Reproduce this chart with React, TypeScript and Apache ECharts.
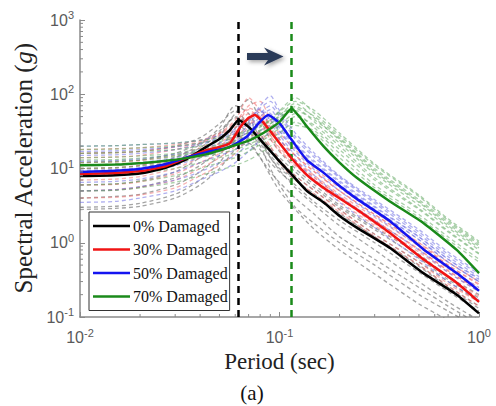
import React, { useEffect, useRef } from "react";
import * as echarts from "echarts";

// ---- mean spectra (solid lines) ----
const blackT = [0.01, 0.015, 0.0207, 0.027, 0.034, 0.0427, 0.05, 0.0565, 0.0624, 0.0711, 0.083, 0.1, 0.113, 0.137, 0.166, 0.2, 0.244, 0.358, 0.526, 0.773, 1.0];
const blackSa = [7.9, 8.1, 8.7, 10.3, 13.3, 19.4, 25, 33, 45, 35, 22, 12.5, 8.8, 5.0, 3.5, 2.3, 1.6, 0.85, 0.39, 0.2, 0.112];
const redT = [0.01, 0.015, 0.0207, 0.027, 0.034, 0.0427, 0.05, 0.0565, 0.0635, 0.0697, 0.0753, 0.0826, 0.1, 0.113, 0.137, 0.166, 0.208, 0.244, 0.358, 0.526, 0.773, 1.0];
const redSa = [8.4, 8.7, 9.3, 10.8, 13.8, 17.5, 19.5, 22, 36, 47.6, 52.4, 42.5, 22, 14.5, 8.2, 5.5, 3.7, 2.8, 1.35, 0.6, 0.29, 0.16];
const blueT = [0.01, 0.015, 0.0207, 0.027, 0.034, 0.0427, 0.05, 0.0565, 0.0685, 0.0798, 0.0878, 0.1, 0.113, 0.137, 0.166, 0.2, 0.244, 0.358, 0.526, 0.773, 1.0];
const blueSa = [9.0, 9.3, 10, 11.5, 14, 16.5, 18, 19.6, 26.7, 42.5, 52.4, 40.8, 26, 13, 8.8, 5.8, 3.9, 1.95, 0.82, 0.39, 0.225];
const greenT = [0.01, 0.015, 0.0207, 0.027, 0.034, 0.0427, 0.05, 0.0565, 0.0711, 0.0826, 0.1, 0.115, 0.126, 0.137, 0.166, 0.2, 0.244, 0.358, 0.526, 0.773, 1.0];
const greenSa = [11.1, 11.3, 11.9, 12.7, 13.8, 15.5, 17.5, 19.6, 24.1, 29.8, 42.5, 64.4, 49.7, 37, 20, 12, 7.5, 3.6, 1.85, 0.8, 0.39];

// ---- individual records (dashed lines) ----
const recPeriods = [0.01, 0.015, 0.02, 0.03, 0.04, 0.05, 0.06, 0.07, 0.08, 0.09, 0.1, 0.12, 0.15, 0.2, 0.3, 0.5, 0.7, 1.0];
const greyRecs = [
  [6, 6.2, 6.8, 9, 14, 22, 40, 30, 18, 12, 9, 6, 3.5, 2, 1.0, 0.4, 0.22, 0.12],
  [12, 12.5, 13, 16, 22, 35, 70, 55, 30, 18, 13, 8, 5, 2.8, 1.3, 0.55, 0.3, 0.16],
  [4, 4.2, 4.5, 6, 9, 15, 28, 22, 14, 9, 6.5, 4, 2.4, 1.2, 0.6, 0.25, 0.14, 0.08],
  [9, 9.3, 10, 13, 19, 30, 55, 85, 45, 25, 17, 10, 6, 3.2, 1.6, 0.7, 0.35, 0.2],
  [16, 16.5, 17, 20, 26, 40, 60, 38, 22, 14, 10, 7, 4.2, 2.4, 1.2, 0.5, 0.26, 0.14],
  [3, 3.1, 3.4, 4.5, 7, 12, 24, 30, 20, 10, 6, 3, 1.8, 1.0, 0.5, 0.2, 0.12, 0.07],
  [8, 8.1, 8.6, 11, 17, 27, 50, 40, 24, 15, 11, 7, 4.5, 2.5, 1.2, 0.48, 0.25, 0.13],
  [5, 5.1, 5.6, 7.5, 11, 18, 35, 45, 25, 14, 9.5, 5.5, 3.2, 1.7, 0.8, 0.3, 0.16, 0.09],
  [10, 10.3, 11, 14, 21, 32, 48, 42, 28, 19, 14, 9, 5.5, 3.0, 1.5, 0.62, 0.32, 0.18],
  [2.8, 2.9, 3.1, 4, 6, 10, 18, 22, 14, 8, 5, 2.8, 1.5, 0.8, 0.38, 0.15, 0.09, 0.05],
];
const pinkRecs = [
  [7, 7.2, 7.8, 10, 14, 18, 28, 45, 38, 25, 17, 11, 7, 4, 1.8, 0.75, 0.4, 0.22],
  [14, 14.3, 15, 18, 22, 28, 40, 70, 80, 45, 30, 18, 10, 5.5, 2.6, 1.0, 0.55, 0.3],
  [5, 5.2, 5.6, 7, 10, 14, 20, 35, 28, 18, 12, 7, 4.5, 2.6, 1.2, 0.5, 0.26, 0.14],
  [10, 10.2, 11, 13, 17, 22, 32, 55, 50, 32, 22, 13, 8, 4.5, 2.2, 0.9, 0.45, 0.25],
  [18, 18.5, 19, 21, 24, 30, 45, 90, 60, 38, 25, 15, 9, 5, 2.4, 1.0, 0.5, 0.28],
  [4, 4.1, 4.4, 5.5, 8, 11, 16, 26, 30, 20, 13, 8, 5, 2.8, 1.3, 0.55, 0.28, 0.16],
  [12, 12.2, 12.8, 15, 19, 25, 36, 62, 45, 28, 19, 12, 7.5, 4.2, 2.0, 0.8, 0.42, 0.23],
  [6, 6.1, 6.6, 8.5, 12, 16, 24, 40, 42, 28, 18, 11, 6.5, 3.6, 1.7, 0.68, 0.35, 0.19],
  [16, 16.3, 17, 19.5, 23, 29, 42, 65, 55, 36, 24, 15, 9, 5, 2.4, 0.95, 0.5, 0.27],
  [8.5, 8.7, 9.3, 11.5, 15, 20, 30, 50, 62, 35, 22, 13, 7.5, 4.2, 2.0, 0.82, 0.42, 0.23],
];
const lblueRecs = [
  [8, 8.2, 8.8, 11, 14, 17, 21, 30, 45, 50, 35, 20, 11, 6, 2.8, 1.1, 0.55, 0.3],
  [15, 15.3, 16, 18, 21, 25, 30, 42, 70, 95, 60, 30, 16, 8, 3.8, 1.5, 0.75, 0.4],
  [5, 5.2, 5.7, 7, 9, 12, 15, 22, 32, 38, 28, 15, 8, 4.2, 2, 0.8, 0.4, 0.22],
  [11, 11.3, 12, 14, 17, 20, 25, 35, 55, 70, 50, 25, 14, 7.5, 3.4, 1.3, 0.65, 0.35],
  [20, 20.3, 21, 22, 24, 28, 34, 48, 60, 45, 32, 19, 11, 6, 2.8, 1.1, 0.55, 0.3],
  [3.5, 3.6, 4, 5, 7, 9, 12, 17, 24, 30, 25, 13, 7, 3.5, 1.6, 0.6, 0.3, 0.17],
  [9.5, 9.7, 10.3, 12.5, 15.5, 19, 23, 33, 50, 62, 42, 22, 12.5, 6.8, 3.1, 1.2, 0.6, 0.33],
  [6.5, 6.7, 7.2, 9, 12, 15, 18, 26, 40, 48, 32, 17, 9.5, 5, 2.3, 0.9, 0.45, 0.25],
  [17, 17.3, 18, 19.5, 22, 26, 32, 45, 65, 80, 55, 27, 15, 7.8, 3.6, 1.4, 0.7, 0.38],
  [12.5, 12.8, 13.5, 15.5, 18, 22, 27, 38, 58, 55, 38, 21, 12, 6.5, 3.0, 1.2, 0.6, 0.32],
];
const lgreenRecs = [
  [10, 10.2, 10.8, 12, 14, 16, 18, 21, 25, 30, 38, 55, 35, 18, 7, 2.8, 1.4, 0.7],
  [16, 16.3, 17, 18, 20, 23, 26, 30, 36, 45, 60, 90, 55, 28, 11, 4.2, 2, 1.0],
  [6, 6.2, 6.7, 8, 10, 12, 14, 17, 21, 25, 30, 42, 30, 14, 5.5, 2.2, 1.1, 0.55],
  [12, 12.3, 13, 14.5, 17, 20, 23, 27, 32, 40, 52, 75, 48, 24, 9, 3.5, 1.7, 0.85],
  [20, 20.3, 21, 22, 24, 26, 29, 33, 38, 45, 55, 65, 42, 22, 8.5, 3.2, 1.6, 0.8],
  [5, 5.1, 5.5, 6.5, 8, 9.5, 11, 13, 16, 20, 26, 38, 32, 16, 6, 2.4, 1.2, 0.6],
  [13, 13.2, 13.8, 15, 17.5, 20, 22, 25, 29, 36, 48, 68, 50, 26, 10, 3.8, 1.9, 0.95],
  [8, 8.2, 8.7, 10, 12, 14, 16, 19, 23, 28, 35, 50, 38, 20, 7.5, 2.9, 1.45, 0.72],
  [18, 18.3, 19, 20, 22, 24.5, 27.5, 32, 37, 44, 58, 80, 60, 30, 11.5, 4.4, 2.1, 1.05],
  [14, 14.2, 14.8, 16, 18.5, 21, 24, 28, 33, 40, 50, 60, 45, 25, 9.5, 3.6, 1.8, 0.9],
];

// ---- reference lines & ticks ----
const vlineBlack = 0.0624;
const vlineGreen = 0.115;
const legendNames = ["0% Damaged", "30% Damaged", "50% Damaged", "70% Damaged"];
const xMinorTicks = [0.02, 0.03, 0.04, 0.05, 0.06, 0.07, 0.08, 0.09, 0.2, 0.3, 0.4, 0.5, 0.6, 0.7, 0.8, 0.9];
const yMinorTicks = [0.2, 0.3, 0.4, 0.5, 0.6, 0.7, 0.8, 0.9, 2, 3, 4, 5, 6, 7, 8, 9, 20, 30, 40, 50, 60, 70, 80, 90, 200, 300, 400, 500, 600, 700, 800, 900];

const zip = (xs: number[], ys: number[]) => xs.map((x, i) => [x, ys[i]]);
const axisGrey = "#8a8a8a";

const expLabel = (v: number) => {
  const e = Math.round(Math.log10(v));
  return `{b|10}{s|${e}}`;
};

export default function App() {
  const ref = useRef<HTMLDivElement>(null);
  useEffect(() => {
    if (!ref.current) return;
    const chart = echarts.init(ref.current, null, { renderer: "svg" });
    const recSeries = (recs: number[][], color: string) =>
      recs.map((r) => ({
        type: "line",
        name: "rec",
        data: zip(recPeriods, r),
        symbol: "none",
        smooth: 0.25,
        silent: true,
        z: 1,
        lineStyle: { color, width: 1.3, type: [4, 3] },
      }));
    const meanSeries = (name: string, t: number[], sa: number[], color: string, extra: any = {}) => ({
      type: "line",
      name,
      data: zip(t, sa),
      symbol: "none",
      smooth: 0.15,
      z: 5,
      lineStyle: { color, width: 2.5 },
      itemStyle: { color },
      ...extra,
    });
    const labelRich = {
      b: { fontSize: 16, fontFamily: "Liberation Sans", color: "#5a5a5a" },
      s: { fontSize: 11, fontFamily: "Liberation Sans", color: "#5a5a5a", padding: [0, 0, 10, 0] },
    };
    chart.setOption({
      animation: false,
      backgroundColor: "#ffffff",
      grid: { left: 80, right: 17, top: 20, bottom: 89 },
      legend: {
        data: legendNames.map((n) => ({ name: n, icon: "rect" })),
        orient: "vertical",
        left: 89,
        top: 212,
        padding: [6, 2, 6, 4],
        itemWidth: 37,
        itemHeight: 2.5,
        itemGap: 7.5,
        borderColor: "#333",
        borderWidth: 1,
        backgroundColor: "#fff",
        textStyle: { fontFamily: "Liberation Serif", fontSize: 16, color: "#111", padding: [0, 0, 0, -2] },
      },
      xAxis: {
        type: "log",
        min: 0.01,
        max: 1,
        logBase: 10,
        name: "Period (sec)",
        nameLocation: "middle",
        nameGap: 32,
        nameTextStyle: { fontFamily: "Liberation Serif", fontSize: 23, color: "#222" },
        axisLine: { lineStyle: { color: axisGrey, width: 1.5 } },
        axisTick: { inside: true, length: 5, lineStyle: { color: axisGrey } },
        splitLine: { show: false },
        axisLabel: { formatter: expLabel, rich: labelRich, margin: 10 },
      },
      yAxis: {
        type: "log",
        min: 0.1,
        max: 1000,
        logBase: 10,
        name: "Spectral Acceleration ({i|g})",
        nameLocation: "middle",
        nameGap: 41,
        nameTextStyle: {
          fontFamily: "Liberation Serif",
          fontSize: 25,
          color: "#222",
          rich: { i: { fontFamily: "Liberation Serif", fontSize: 25, fontStyle: "italic", color: "#222" } },
        },
        axisLine: { lineStyle: { color: axisGrey, width: 1.5 } },
        axisTick: { inside: true, length: 5, lineStyle: { color: axisGrey } },
        splitLine: { show: false },
        axisLabel: { formatter: expLabel, rich: labelRich, margin: 6 },
      },
      series: [
        ...recSeries(greyRecs, "rgba(105,105,105,0.6)"),
        ...recSeries(pinkRecs, "rgba(240,110,110,0.55)"),
        ...recSeries(lblueRecs, "rgba(110,110,225,0.55)"),
        ...recSeries(lgreenRecs, "rgba(100,170,100,0.55)"),
        meanSeries("0% Damaged", blackT, blackSa, "#000000", {
          markLine: {
            silent: true,
            symbol: "none",
            label: { show: false },
            lineStyle: { color: "#000", width: 2.5, type: [7, 5] },
            data: [[{ coord: [vlineBlack, 0.1] }, { coord: [vlineBlack, 1000] }]],
          },
        }),
        meanSeries("30% Damaged", redT, redSa, "#f01414"),
        meanSeries("50% Damaged", blueT, blueSa, "#1414f0"),
        meanSeries("70% Damaged", greenT, greenSa, "#1a8a1a", {
          markLine: {
            silent: true,
            symbol: "none",
            label: { show: false },
            lineStyle: { color: "#1a8a1a", width: 2.5, type: [7, 5] },
            data: [[{ coord: [vlineGreen, 0.1] }, { coord: [vlineGreen, 1000] }]],
          },
        }),
        {
          type: "custom",
          name: "xminor",
          silent: true,
          clip: false,
          z: 6,
          data: xMinorTicks.map((v) => [v, 0.1]),
          renderItem: (params: any, api: any) => {
            const p = api.coord([api.value(0), api.value(1)]);
            return { type: "line", shape: { x1: p[0], y1: p[1], x2: p[0], y2: p[1] - 3 }, style: { stroke: axisGrey, lineWidth: 1 } };
          },
        },
        {
          type: "custom",
          name: "yminor",
          silent: true,
          clip: false,
          z: 6,
          data: yMinorTicks.map((v) => [0.01, v]),
          renderItem: (params: any, api: any) => {
            const p = api.coord([api.value(0), api.value(1)]);
            return { type: "line", shape: { x1: p[0], y1: p[1], x2: p[0] + 3, y2: p[1] }, style: { stroke: axisGrey, lineWidth: 1 } };
          },
        },
      ],
      graphic: [
        {
          type: "polygon",
          shape: { points: [[247, 53], [268, 53], [264, 47.5], [283.5, 56.5], [264, 65.5], [268, 60], [247, 60]] },
          style: { fill: "#2b3a58", shadowBlur: 4, shadowColor: "rgba(0,0,0,0.35)", shadowOffsetX: 2, shadowOffsetY: 2 },
        },
        {
          type: "text",
          x: 252,
          y: 393,
          style: { text: "(a)", fontFamily: "Liberation Serif", fontSize: 21, fill: "#111", textAlign: "center", textVerticalAlign: "middle" },
        },
      ],
    });
    return () => chart.dispose();
  }, []);
  return <div ref={ref} style={{ width: 496, height: 406, position: "fixed", left: 0, top: 0 }} />;
}
